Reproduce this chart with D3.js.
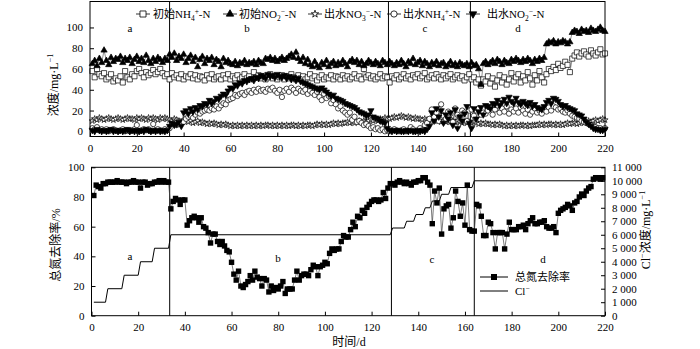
<!DOCTYPE html>
<html><head><meta charset="utf-8">
<script src="https://cdn.jsdelivr.net/npm/d3@7"></script>
<style>body{margin:0;background:#fff} svg text{font-family:"Liberation Serif","Noto Sans CJK SC",serif;fill:#000}</style>
</head><body><svg id="c" width="700" height="349"></svg>
<script>
// ---------- data (top panel, daily, day 1..220) ----------
const initNH4 = [
58,52,60,55,53,56,50,52,55,48, 51,49,53,47,58,52,50,55,53,58, 60,56,52,57,54,56,59,55,57,60,
56,53,55,50,56,52,54,51,55,50, 53,52,55,51,54,50,53,52,49,54, 51,55,50,52,53,50,54,51,55,50,
53,51,54,50,52,55,51,53,50,57, 52,54,51,53,50,52,55,51,53,50, 52,54,50,53,51,55,52,50,54,51,
53,50,52,55,51,53,49,52,54,50, 52,51,54,50,53,52,50,54,51,53, 50,52,55,51,53,50,60,52,54,51,
53,50,52,55,51,53,52,47,53,51, 54,50,52,55,51,53,50,54,52,55, 51,53,56,50,52,54,51,55,52,50,
54,51,53,55,50,52,54,51,53,49, 52,55,50,52,47,50,44,50,48,53, 46,51,43,49,54,47,52,45,50,56,
48,52,55,47,53,49,57,51,45,54, 49,58,52,47,55,60,58,62,59,65, 61,63,67,64,57,70,73,76,72,75,
77,74,72,78,75,73,76,79,74,75];
const initNO2 = [
65,68,63,70,66,78,68,64,71,67, 70,69,72,66,70,68,71,65,69,72, 67,70,66,73,68,65,70,67,71,69,
66,70,68,74,71,75,68,72,70,74, 66,70,73,67,71,62,69,72,65,70, 68,71,64,69,67,62,70,66,68,65,
64,67,63,66,65,68,64,66,65,67, 64,68,66,65,70,69,71,68,70,67, 69,71,68,70,72,74,71,76,70,67,
71,65,69,64,62,67,63,61,66,64, 68,62,65,67,63,66,64,68,65,62, 67,69,66,68,64,67,63,65,68,66,
64,67,65,63,68,66,64,67,65,63, 66,64,68,65,62,67,65,70,64,66, 68,63,67,65,62,66,64,67,63,65,
66,62,64,67,63,65,62,66,64,63, 65,62,66,63,64,60,45,65,67,64, 66,68,65,69,67,64,68,66,65,69,
67,70,68,66,69,67,70,68,65,69, 67,70,68,71,84,86,85,87,84,86, 85,87,86,84,86,95,97,96,94,98,
96,97,95,99,97,96,98,100,97,96];
const effNO3 = [
10,12,11,13,12,11,12,13,12,11, 12,13,12,11,12,13,12,12,11,13, 12,13,12,11,13,12,13,12,11,13,
12,13,12,11,10,12,11,10,9,11, 10,9,10,8,9,10,8,9,8,7, 8,7,8,7,6,7,6,7,6,5,
6,5,6,5,6,5,6,5,6,5, 6,5,6,5,6,6,5,6,5,6, 5,6,5,6,5,6,6,5,6,5,
6,5,6,6,5,6,7,6,7,6, 7,6,7,8,7,8,7,8,8,9, 8,9,8,9,10,9,10,9,10,11,
10,11,10,12,11,13,12,12,13,14, 13,14,15,14,13,14,13,12,13,12, 12,11,12,11,10,11,10,11,10,9,
10,9,10,9,10,9,10,9,8,9, 8,9,8,9,8,7,8,7,8,7, 7,6,7,6,7,6,5,6,5,6,
5,6,5,6,6,5,6,5,6,6, 6,7,6,7,6,7,7,6,7,6, 7,6,7,8,7,8,8,7,8,9,
8,9,10,9,10,11,10,11,12,11];
const effNH4 = [
3,2,4,1,2,1,2,0,1,2, 1,0,1,2,0,1,0,1,2,6, 0,1,2,1,2,0,7,1,2,1,
0,2,1,3,7,8,6,7,8,9, 12,14,15,13,16,18,17,19,20,21, 20,22,21,24,22,25,27,26,30,31,
32,35,34,36,37,35,38,39,37,40, 38,41,39,40,38,41,40,42,39,37, 40,33,39,41,38,42,40,37,41,39,
38,40,36,39,37,35,38,33,30,36, 32,34,27,30,26,22,24,20,18,16, 18,11,14,9,10,8,6,7,5,3,
4,2,3,1,2,0,1,0,1,2, 1,0,1,2,0,1,4,2,0,1, 3,1,6,8,12,21,14,18,10,26,
15,12,19,17,9,22,16,14,20,18, 10,20,21,15,20,22,16,18,17,20, 23,16,21,25,18,22,19,24,17,21,
19,22,18,23,20,17,21,16,19,22, 18,20,17,21,19,23,20,24,23,21, 22,19,18,20,17,15,14,13,12,10,
9,8,7,6,5,4,3,3,2,3];
const effNO2 = [
1,0,2,1,0,1,0,1,2,0, 1,0,1,0,1,2,0,1,0,1, 0,1,0,2,1,0,1,0,1,0,
1,0,1,5,8,6,7,9,5,18, 20,17,22,19,23,21,25,24,27,26, 30,27,29,32,31,34,36,35,39,42,
41,45,44,47,46,49,48,50,51,49, 52,51,54,53,51,55,53,54,52,55, 53,52,54,51,53,50,52,49,51,48,
47,46,45,44,43,42,41,40,42,40, 38,36,34,35,32,31,30,29,27,26, 25,24,23,21,19,18,17,15,16,20,
14,13,12,10,9,8,3,1,0,1, 0,1,0,0,1,0,1,0,0,1, 0,1,0,2,5,18,10,22,14,20,
8,16,12,18,6,21,3,14,10,17, 24,8,3,22,12,19,23,16,25,24, 22,27,26,30,25,28,31,27,33,29,
27,32,28,26,29,27,25,28,24,26, 23,22,21,24,28,30,27,32,31,29, 26,24,25,23,22,21,20,17,16,15,
12,9,7,5,3,2,2,1,1,2];

// ---------- data (bottom panel) ----------
const tnRate = [ // day 1..219
81,88,87,86,89,89,90,90,90,90, 91,90,90,90,89,90,90,91,90,90, 86,90,90,88,89,89,90,90,91,90,
91,90,90,72,77,79,78,75,78,78, 61,64,66,67,66,63,66,60,59,56, 49,55,55,50,48,50,47,44,43,36,
28,24,30,20,19,21,23,27,24,30, 26,25,20,25,24,16,20,17,19,18, 20,23,15,18,18,18,24,30,24,27,
28,28,27,31,34,33,27,33,34,36, 35,42,45,44,45,45,50,54,53,53, 58,63,60,67,66,71,69,73,75,77,
78,78,77,78,83,79,86,89,89,88, 90,91,90,89,90,89,88,90,90,91, 91,93,93,90,88,62,84,76,86,55,
72,74,75,59,66,84,77,67,76,61, 88,58,57,57,75,74,67,54,54,63, 62,56,45,56,56,56,45,55,63,58,
58,58,60,60,61,58,62,64,66,62, 62,63,63,64,60,59,59,60,56,69, 71,72,73,75,74,71,76,77,80,82,
81,84,86,87,92,93,93,92,93];
const clDays   = [1,6,7,13,14,20,21,26,27,33,34,128,129,134,135,138,139,142,143,145,146,149,150,153,154,163,164,220];
const clValues = [1000,1000,2000,2000,3000,3000,4000,4000,5000,5000,6000,6000,6500,6500,7000,7000,7500,7500,8000,8000,8500,8500,9000,9000,9500,9500,10000,10000];

const xTicks = [0,20,40,60,80,100,120,140,160,180,200,220];
const topYTicks = [0,20,40,60,80,100];
const botYTicks = [0,20,40,60,80,100];
const clTicks = [0,1000,2000,3000,4000,5000,6000,7000,8000,9000,10000,11000];
const phaseTop = [34,127.5,162.5];
const phaseBot = [33.5,128.5,164];
const phaseLabels = ["a","b","c","d"];

// ---------- drawing ----------
const svg = d3.select("#c");
const FS = 11;

function rich(g, x, y, parts, size, anchor, rot) {
  const t = g.append("text").attr("font-size", size).attr("text-anchor", anchor || "start");
  if (rot) t.attr("transform", `translate(${x},${y}) rotate(${rot})`);
  else t.attr("x", x).attr("y", y);
  let cur = 0;
  parts.forEach(p => {
    const s = p[0], m = p[1] || "n";
    const off = m === "sup" ? -size * 0.38 : m === "sub" ? size * 0.28 : 0;
    t.append("tspan").attr("dy", off - cur).attr("font-size", m === "n" ? size : size * 0.68).text(s);
    cur = off;
  });
  return t;
}

const xT = d3.scaleLinear().domain([0,220]).range([90,605]);
const yT = d3.scaleLinear().domain([-5,125]).range([136.5,1.5]);
const xB = d3.scaleLinear().domain([0,220]).range([91.5,605]);
const yB = d3.scaleLinear().domain([0,100]).range([315.7,167.3]);
const yC = d3.scaleLinear().domain([0,11000]).range([315.7,167.3]);

function frame(x0,x1,y0,y1){
  svg.append("rect").attr("x",x0).attr("y",y0).attr("width",x1-x0).attr("height",y1-y0)
    .attr("fill","none").attr("stroke","#000").attr("stroke-width",1);
}

// ===== TOP PANEL =====
const gT = svg.append("g");
frame(xT(0), xT(220), yT(125), yT(-5));
const axXT = gT.append("g").attr("transform",`translate(0,${yT(-5)})`)
  .call(d3.axisBottom(xT).tickValues(xTicks).tickSizeInner(-4).tickSizeOuter(0).tickPadding(8));
const axYT = gT.append("g").attr("transform",`translate(${xT(0)},0)`)
  .call(d3.axisLeft(yT).tickValues(topYTicks).tickSizeInner(-4).tickSizeOuter(0).tickPadding(7));
[axXT, axYT].forEach(a => { a.select(".domain").remove(); a.selectAll("text").attr("font-size",FS).style("font-family","Liberation Serif"); a.selectAll("line").attr("stroke","#000"); });
phaseTop.forEach(d => gT.append("line").attr("x1",xT(d)).attr("x2",xT(d)).attr("y1",yT(125)).attr("y2",yT(-5)).attr("stroke","#000").attr("stroke-width",1));
[[130,"a"],[247,"b"],[425,"c"],[518,"d"]].forEach((p,i)=> gT.append("text").attr("x",p[0]).attr("y",32).attr("font-size",FS).attr("text-anchor","middle").text(phaseLabels[i]));

const seriesT = [
  {v:initNH4, sym:d3.symbolSquare, size:26, fill:"#fff"},
  {v:initNO2, sym:d3.symbolTriangle, size:17, fill:"#000"},
  {v:effNO3, sym:d3.symbolStar, size:12, fill:"#fff"},
  {v:effNH4, sym:d3.symbolCircle, size:22, fill:"#fff"},
  {v:effNO2, sym:d3.symbolTriangle, size:17, fill:"#000", rot:180},
];
const lineT = d3.line().x((d,i)=>xT(i+1)).y(d=>yT(d));
seriesT.forEach(s => {
  gT.append("path").attr("d", lineT(s.v)).attr("fill","none").attr("stroke","#444").attr("stroke-width",0.6);
});
seriesT.forEach(s => {
  gT.append("g").selectAll("path").data(s.v).join("path")
    .attr("d", d3.symbol().type(s.sym).size(s.size))
    .attr("transform",(d,i)=>`translate(${xT(i+1)},${yT(d)})${s.rot?` rotate(${s.rot})`:""}`)
    .attr("fill", s.fill).attr("stroke","#000").attr("stroke-width",0.7);
});

const legT = [
  {x:143, tx:153, parts:[["初始NH"],["4","sub"],["+","sup"],["-N"]]},
  {x:230, tx:239, parts:[["初始NO"],["2","sub"],["−","sup"],["-N"]]},
  {x:315, tx:324, parts:[["出水NO"],["3","sub"],["−","sup"],["-N"]]},
  {x:394, tx:403, parts:[["出水NH"],["4","sub"],["+","sup"],["-N"]]},
  {x:473, tx:487, parts:[["出水NO"],["2","sub"],["−","sup"],["-N"]]},
];
legT.forEach((l,i)=>{
  const s = seriesT[i];
  gT.append("line").attr("x1",l.x-7).attr("x2",l.x+7).attr("y1",14).attr("y2",14).attr("stroke","#000").attr("stroke-width",0.8);
  gT.append("path").attr("d", d3.symbol().type(s.sym).size(s.size*1.4)).attr("transform",`translate(${l.x},14)${s.rot?` rotate(${s.rot})`:""}`)
    .attr("fill",s.fill).attr("stroke","#000").attr("stroke-width",0.8);
  rich(gT, l.tx, 18, l.parts, FS, "start");
});
rich(svg, 58, 85, [["浓度/mg·L"],["−1","sup"]], 12, "middle", -90);

// ===== BOTTOM PANEL =====
const gB = svg.append("g");
frame(xB(0), xB(220), yB(100), yB(0));
const axXB = gB.append("g").attr("transform",`translate(0,${yB(0)})`)
  .call(d3.axisBottom(xB).tickValues(xTicks).tickSizeInner(-4).tickSizeOuter(0).tickPadding(8));
const axYB = gB.append("g").attr("transform",`translate(${xB(0)},0)`)
  .call(d3.axisLeft(yB).tickValues(botYTicks).tickSizeInner(-4).tickSizeOuter(0).tickPadding(7));
const axYC = gB.append("g").attr("transform",`translate(${xB(220)},0)`)
  .call(d3.axisRight(yC).tickValues(clTicks).tickSizeInner(-4).tickSizeOuter(0).tickPadding(7)
    .tickFormat(d => d >= 1000 ? d3.format(",")(d).replace(",", " ") : d));
[axXB, axYB, axYC].forEach(a => { a.select(".domain").remove(); a.selectAll("text").attr("font-size",FS).style("font-family","Liberation Serif"); a.selectAll("line").attr("stroke","#000"); });

phaseBot.forEach(d => gB.append("line").attr("x1",xB(d)).attr("x2",xB(d)).attr("y1",yB(100)).attr("y2",yB(0)).attr("stroke","#000").attr("stroke-width",1));
[[130,260],[278,262],[432,263],[543,263]].forEach((p,i)=> gB.append("text").attr("x",p[0]).attr("y",p[1]).attr("font-size",FS).attr("text-anchor","middle").text(phaseLabels[i]));

const lineCl = d3.line().x((d,i)=>xB(clDays[i])).y(d=>yC(d));
gB.append("path").attr("d", lineCl(clValues)).attr("fill","none").attr("stroke","#000").attr("stroke-width",1);
const lineTN = d3.line().x((d,i)=>xB(i+1)).y(d=>yB(d));
gB.append("path").attr("d", lineTN(tnRate)).attr("fill","none").attr("stroke","#444").attr("stroke-width",0.7);
gB.append("g").selectAll("rect").data(tnRate).join("rect")
  .attr("x",(d,i)=>xB(i+1)-2.7).attr("y",d=>yB(d)-2.7).attr("width",5.4).attr("height",5.4).attr("fill","#000");

gB.append("line").attr("x1",480).attr("x2",508).attr("y1",277).attr("y2",277).attr("stroke","#000");
gB.append("rect").attr("x",491).attr("y",274).attr("width",6).attr("height",6).attr("fill","#000");
gB.append("text").attr("x",515).attr("y",281).attr("font-size",11).text("总氮去除率");
gB.append("line").attr("x1",480).attr("x2",508).attr("y1",291).attr("y2",291).attr("stroke","#000");
rich(gB, 515, 295, [["Cl"],["−","sup"]], 11, "start");

rich(svg, 60, 245, [["总氮去除率/%"]], 12, "middle", -90);
rich(svg, 650, 230, [["Cl"],["−","sup"],["浓度/mg·L"],["−1","sup"]], 12, "middle", -90);
svg.append("text").attr("x",349).attr("y",346).attr("font-size",12).attr("text-anchor","middle").text("时间/d");
</script></body></html>
